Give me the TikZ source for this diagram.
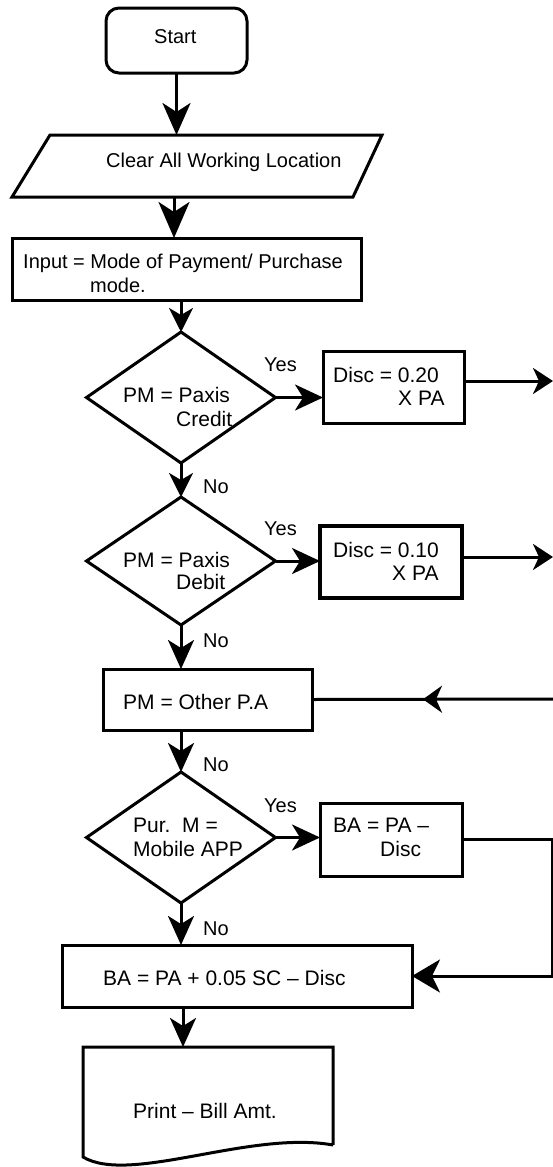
\documentclass[tikz,border=0pt]{standalone}
\usepackage{fontspec}
\setmainfont{Liberation Sans}
\usetikzlibrary{arrows.meta,shapes.geometric,decorations.markings}
\begin{document}
\begin{tikzpicture}[x=1pt,y=-1pt,
  ln/.style={line width=3pt},
  shp/.style={draw, ln, inner sep=0pt, outer sep=0pt},
  boxr/.style={shp, rectangle},
  dia/.style={shp, diamond, minimum width=189pt},
  txt/.style={inner sep=0pt, anchor=base west, font=\fontsize{20}{24}\selectfont},
  txtl/.style={txt, font=\fontsize{21}{25}\selectfont},
  abig/.style={ln, -{Stealth[length=32pt,width=28pt,inset=9pt]}},
  abig2/.style={ln, -{Stealth[length=36pt,width=31pt,inset=10pt]}},
  amid/.style={ln, -{Stealth[length=29pt,width=26pt,inset=8pt]}},
  asml/.style={ln, -{Stealth[length=24pt,width=24pt,inset=7pt]}},
  ayes/.style={ln, -{Stealth[length=28pt,width=26pt,inset=8pt]}},
  aedge/.style={ln, -{Stealth[length=20pt,width=26pt,inset=6pt]}},
  aback/.style={ln, -{Stealth[length=28pt,width=33pt,inset=8pt]}}
]
\useasboundingbox (0,0) rectangle (553,1167);

% shapes
\node[boxr, rounded corners=13pt, minimum width=141pt, minimum height=65pt] (start) at (176.5,40.5) {};
\coordinate (p1) at (50,135);
\coordinate (p2) at (382,135);
\coordinate (p3) at (353,197);
\coordinate (p4) at (12,197);
\draw[ln] (p1) -- (p2) -- (p3) -- (p4) -- cycle;
\coordinate (clrT) at (176.5,135);
\coordinate (clrB) at (174,197);
\node[boxr, minimum width=349pt, minimum height=62pt] (inp) at (186.5,269) {};
\node[dia, minimum height=131pt] (d1) at (181,397.5) {};
\node[boxr, minimum width=141pt, minimum height=72pt] (disc1) at (393.5,387) {};
\node[dia, minimum height=128pt] (d2) at (181,561) {};
\node[boxr, line width=3.8pt, minimum width=142pt, minimum height=72pt] (disc2) at (391,562) {};
\node[boxr, minimum width=209pt, minimum height=61pt] (oth) at (207.5,699.5) {};
\node[dia, minimum height=131pt] (d3) at (181,837.5) {};
\node[boxr, minimum width=142pt, minimum height=73pt] (ba1) at (391,839.5) {};
\node[boxr, minimum width=350pt, minimum height=62pt] (ba2) at (237,976) {};
\node[inner sep=0pt, outer sep=0pt, minimum width=250pt, minimum height=98pt] (doc) at (208,1096) {};
\draw[ln] (doc.south east) -- (doc.north east) -- (doc.north west) -- ([yshift=-12pt]doc.south west)
  .. controls (130,1185) and (250,1130) .. (doc.south east);

\coordinate (e1) at (553,381);
\coordinate (e2) at (553,557);
\coordinate (e3) at (553,699);
\coordinate (rt) at (552,840);

% texts
\node[txt] (tstart) at (154,43) {Start};
\node[txt] (tclr) at (106,167) {Clear All Working Location};
\node[txt] (tinp1) at (23,268) {Input = Mode of Payment/ Purchase};
\node[txt] (tinp2) at (90,292) {mode.};
\node[txtl] (td1a) at (123,402) {PM = Paxis};
\node[txtl] (td1b) at (176,426) {Credit};
\node[txtl] (tdc1a) at (333,382) {Disc = 0.20};
\node[txtl] (tdc1b) at (398,405) {X PA};
\node[txtl] (td2a) at (123,567) {PM = Paxis};
\node[txtl] (td2b) at (176,589) {Debit};
\node[txtl] (tdc2a) at (333,557) {Disc = 0.10};
\node[txtl] (tdc2b) at (392,580) {X PA};
\node[txtl] (toth) at (123,709) {PM = Other P.A};
\node[txtl] (td3a) at (133,832) {Pur.\ \ M =};
\node[txtl] (td3b) at (133,856) {Mobile APP};
\node[txtl] (tba1a) at (333,832) {BA = PA --};
\node[txtl] (tba1b) at (380,856) {Disc};
\node[txtl] (tba2) at (103,985) {BA = PA + 0.05 SC -- Disc};
\node[txtl] (tdoc) at (133,1118) {Print -- Bill Amt.};
\node[txt] (y1) at (264,371) {Yes};
\node[txt] (y2) at (264,535) {Yes};
\node[txt] (y3) at (264,812) {Yes};
\node[txt] (n1) at (203,493) {No};
\node[txt] (n2) at (203,647) {No};
\node[txt] (n3) at (203,771) {No};
\node[txt] (n4) at (203,935) {No};

% connectors
\draw[abig] (start.south) -- (clrT);
\draw[abig2] (clrB) -- (clrB |- inp.north);
\draw[asml] (inp.south -| d1.north) -- (d1.north);
\draw[ayes] (d1.east) -- (d1.east -| disc1.west);
\draw[aedge] ([yshift=6pt]disc1.east) -- (e1);
\draw[asml] (d1.south) -- (d2.north);
\draw[ayes] (d2.east) -- (d2.east -| disc2.west);
\draw[aedge] ([yshift=5pt]disc2.east) -- (e2);
\draw[amid] (d2.south) -- (d2.south |- oth.north);
\draw[ln, postaction=decorate, decoration={markings,
  mark=at position 130pt with {\arrow{Stealth[length=19pt,width=27pt,inset=6pt]}}}] (e3) -- (oth.east);
\draw[amid] (oth.south -| d3.north) -- (d3.north);
\draw[ayes] (d3.east) -- (d3.east -| ba1.west);
\draw[aback] (ba1.east) -- (ba1.east -| rt) |- (ba2.east);
\draw[amid] (d3.south) -- (d3.south |- ba2.north);
\draw[amid] ([xshift=2pt]d3.south |- ba2.south) -- ([xshift=2pt]d3.south |- doc.north);
\end{tikzpicture}
\end{document}
